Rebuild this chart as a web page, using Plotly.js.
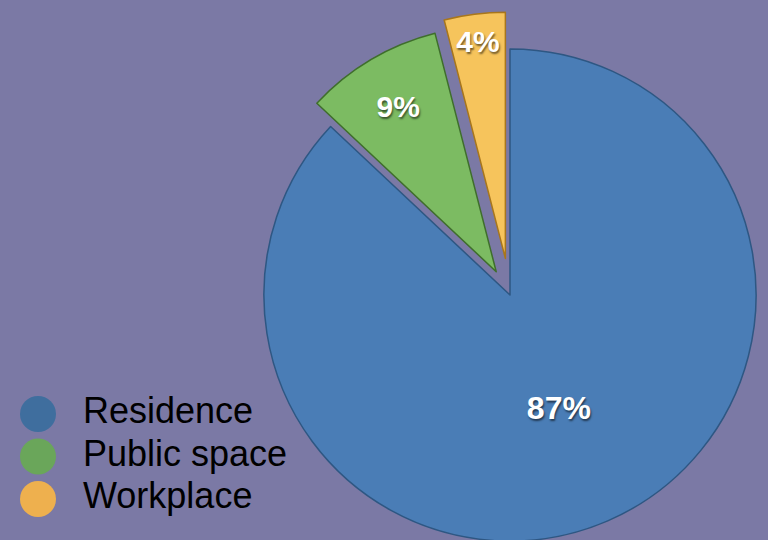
<!DOCTYPE html>
<html><head><meta charset="utf-8">
<script src="https://cdn.plot.ly/plotly-3.0.1.min.js"></script>
<style>html,body{margin:0;padding:0;background:#7b79a5;overflow:hidden;width:768px;height:540px}</style>
</head><body><div id="chart" style="width:800px;height:590px"></div>
<script>
const categories = ['Residence', 'Public space', 'Workplace'];
const shares = [87, 9, 4];
const sliceColors = ['#4a7db6', '#7cbb62', '#f6c45c'];
const sliceLines = ['#2e5783', '#3f6e2c', '#a8761c'];
const legendColors = ['#3f6e9e', '#6aa65a', '#eeb04e'];

const rows = categories.map((c, i) => i);

const pie = {
  type: 'pie',
  labels: categories,
  values: shares,
  sort: false,
  direction: 'clockwise',
  rotation: 0,
  pull: [0, 0.11, 0.15],
  marker: { colors: sliceColors, line: { color: sliceLines, width: 1.5 } },
  textinfo: 'percent',
  texttemplate: '%{percent:.0%}',
  textposition: 'inside',
  insidetextorientation: 'horizontal',
  textfont: { family: 'Liberation Sans, Arial, sans-serif', size: [32, 30, 30], color: '#ffffff', weight: 'bold',
              shadow: '1px 2px 2px rgba(0,0,0,0.55)' },
  domain: { x: [(510 - 283) / 800, (510 + 283) / 800], y: [0, 1] },
  hoverinfo: 'label+percent',
  showlegend: false
};

const legendMarks = {
  type: 'scatter',
  mode: 'markers',
  x: rows.map(() => 0),
  y: rows,
  marker: { size: 36, color: legendColors, line: { width: 0 } },
  hoverinfo: 'skip',
  showlegend: false
};

const legendText = {
  type: 'scatter',
  mode: 'text',
  x: rows.map(() => 1),
  y: rows,
  text: categories,
  textposition: 'middle right',
  textfont: { family: 'Liberation Sans, Arial, sans-serif', size: 36, color: '#000000' },
  hoverinfo: 'skip',
  showlegend: false
};

const layout = {
  width: 800,
  height: 590,
  margin: { l: 0, r: 0, t: 0, b: 0 },
  paper_bgcolor: '#7b79a5',
  plot_bgcolor: 'rgba(0,0,0,0)',
  showlegend: false,
  xaxis: { visible: false, range: [-38 / 45, (800 - 38) / 45], fixedrange: true },
  yaxis: { visible: false, range: [(590 - 414) / 42.5, -414 / 42.5], fixedrange: true }
};

Plotly.newPlot('chart', [pie, legendMarks, legendText], layout, { displayModeBar: false, staticPlot: true });
</script></body></html>
